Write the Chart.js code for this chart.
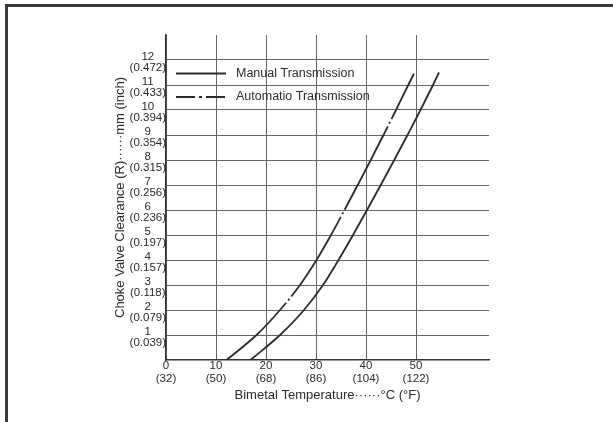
<!DOCTYPE html>
<html>
<head>
<meta charset="utf-8">
<script src="https://cdn.jsdelivr.net/npm/chart.js@4/dist/chart.umd.min.js"></script>
<style>
  html, body { margin: 0; padding: 0; background: #fff; }
  #wrap { position: relative; width: 613px; height: 422px; overflow: hidden; background: #fff; }
  #frame { position: absolute; left: 5px; top: 4px; width: 700px; height: 500px;
           border-left: 3px solid #3a3a3a; border-top: 3px solid #3a3a3a; box-sizing: border-box; }
  canvas { position: absolute; left: 0; top: 0; }
</style>
</head>
<body>
<div id="wrap">
  <div id="frame"></div>
  <canvas id="c" width="613" height="422"></canvas>
</div>
<script>
// Choke valve clearance (mm) against bimetal temperature (°C)
const manualClearance = [0, 1, 2, 3, 4, 5, 6, 7, 8, 9, 10, 11, 11.5];
const manualTemp      = [16.9, 22.8, 27.6, 31.4, 34.5, 37.4, 40.2, 42.95, 45.65, 48.3, 50.9, 53.4, 54.6];
const autoClearance   = [0, 1, 2, 3, 4, 5, 6, 7, 8, 9, 10, 11, 11.45];
const autoTemp        = [12.1, 18.1, 22.8, 26.8, 30.1, 33.0, 35.7, 38.35, 40.95, 43.5, 46.0, 48.45, 49.6];

// Axis ticks: Celsius with Fahrenheit, millimetres with inches
const celsiusTicks     = [0, 10, 20, 30, 40, 50];
const fahrenheitLabels = ['(32)', '(50)', '(68)', '(86)', '(104)', '(122)'];
const mmTicks          = [1, 2, 3, 4, 5, 6, 7, 8, 9, 10, 11, 12];
const inchLabels       = ['(0.039)', '(0.079)', '(0.118)', '(0.157)', '(0.197)', '(0.236)',
                          '(0.256)', '(0.315)', '(0.354)', '(0.394)', '(0.433)', '(0.472)'];

const seriesNames = ['Manual Transmission', 'Automatio Transmission'];

const toPoints = (xs, ys) => xs.map((x, i) => ({ x: x, y: ys[i] }));

const INK = '#2b2b2b';
const FONT = '"Liberation Sans", Arial, sans-serif';

// Legend drawn inside the plot, lines with their labels
const insetLegend = {
  id: 'insetLegend',
  afterDatasetsDraw(chart, args, opts) {
    const ctx = chart.ctx;
    chart.data.datasets.forEach((ds, i) => {
      const y = opts.top + i * opts.rowGap;
      ctx.save();
      ctx.strokeStyle = ds.borderColor;
      ctx.lineWidth = ds.borderWidth;
      ctx.setLineDash(opts.dashes[i] || []);
      ctx.beginPath();
      ctx.moveTo(opts.left, y);
      ctx.lineTo(opts.left + opts.sample, y);
      ctx.stroke();
      ctx.setLineDash([]);
      ctx.fillStyle = INK;
      ctx.font = opts.font;
      ctx.textBaseline = 'middle';
      ctx.textAlign = 'left';
      ctx.fillText(ds.label, opts.left + opts.sample + 10, y);
      ctx.restore();
    });
  }
};

new Chart(document.getElementById('c'), {
  type: 'scatter',
  data: {
    datasets: [
      {
        label: seriesNames[0],
        data: toPoints(manualTemp, manualClearance),
        showLine: true,
        borderColor: INK,
        borderWidth: 1.8,
        pointRadius: 0,
        cubicInterpolationMode: 'monotone'
      },
      {
        label: seriesNames[1],
        data: toPoints(autoTemp, autoClearance),
        showLine: true,
        borderColor: INK,
        borderWidth: 1.8,
        borderDash: [94, 3, 2, 3],
        borderDashOffset: 11,
        pointRadius: 0,
        cubicInterpolationMode: 'monotone'
      }
    ]
  },
  options: {
    responsive: false,
    animation: false,
    devicePixelRatio: 1,
    layout: { padding: { left: 113, top: 35, right: 124, bottom: 0 } },
    plugins: {
      legend: { display: false },
      tooltip: { enabled: false },
      insetLegend: {
        left: 176, top: 73.5, rowGap: 23.5, sample: 50,
        dashes: [[], [19, 4, 3, 4]],
        font: '12.5px ' + FONT
      }
    },
    scales: {
      x: {
        type: 'linear',
        position: 'bottom',
        min: 0,
        max: 64.6,
        afterBuildTicks: s => { s.ticks = celsiusTicks.map(v => ({ value: v })); },
        afterFit: s => { s.height = 62; },
        ticks: {
          autoSkip: false,
          maxRotation: 0,
          padding: 0,
          color: INK,
          font: { family: FONT, size: 11.5, lineHeight: 1.09 },
          callback: v => [String(v), fahrenheitLabels[celsiusTicks.indexOf(v)]]
        },
        grid: { color: '#666', lineWidth: 1, drawTicks: false },
        border: { color: '#333', width: 1.5 },
        title: {
          display: true,
          text: 'Bimetal Temperature······°C (°F)',
          color: INK,
          font: { family: FONT, size: 13, lineHeight: 1.2 },
          padding: { top: 0, bottom: 19.2 }
        }
      },
      y: {
        type: 'linear',
        position: 'left',
        min: 0,
        max: 13,
        afterBuildTicks: s => { s.ticks = mmTicks.map(v => ({ value: v })); },
        afterFit: s => { s.width = 53; },
        ticks: {
          autoSkip: false,
          padding: 0,
          crossAlign: 'center',
          labelOffset: 2.5,
          color: INK,
          font: { family: FONT, size: 11.5, lineHeight: 0.92 },
          callback: v => [String(v), inchLabels[mmTicks.indexOf(v)]]
        },
        grid: { color: '#666', lineWidth: 1, drawTicks: false },
        border: { color: '#333', width: 1.5 },
        title: {
          display: true,
          text: 'Choke Valve Clearance (R)······mm (inch)',
          color: INK,
          font: { family: FONT, size: 13, lineHeight: 1.2 },
          padding: { top: 0, bottom: 0 }
        }
      }
    }
  },
  plugins: [insetLegend]
});
</script>
</body>
</html>
